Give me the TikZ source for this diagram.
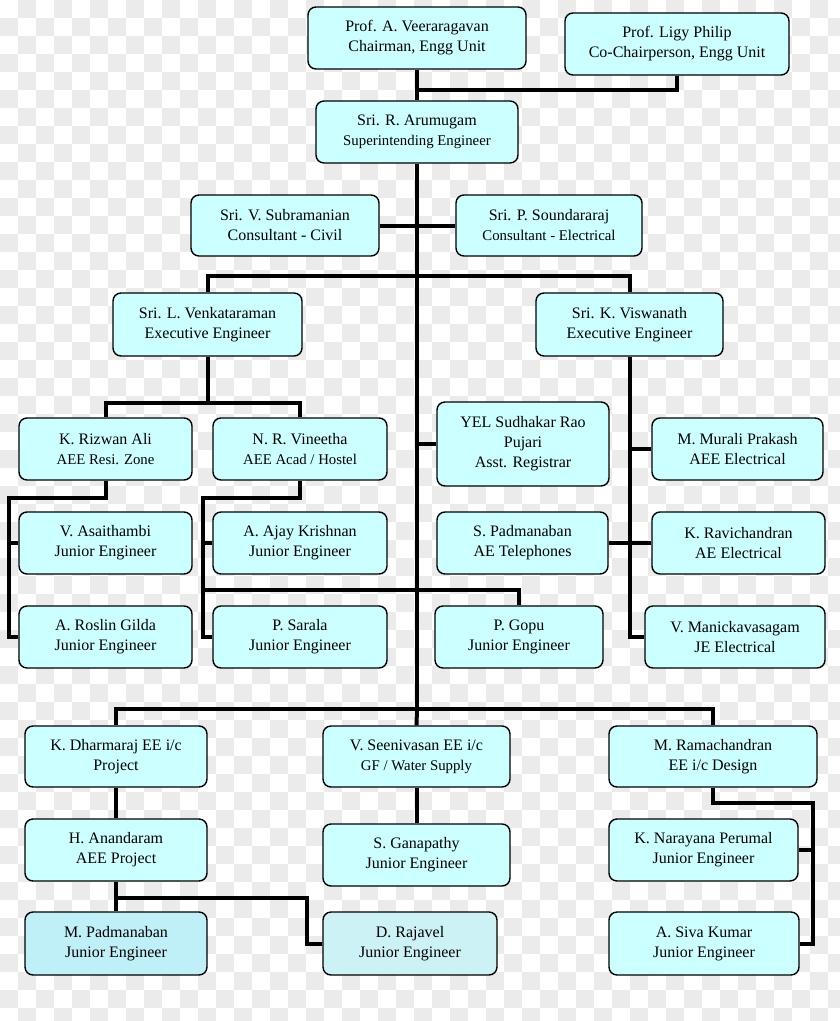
\documentclass[tikz,border=0pt]{standalone}
\usepackage{fontspec}
\setmainfont{Liberation Serif}
\definecolor{boxc}{HTML}{CCFFFF}
\definecolor{boxd}{HTML}{BFEFF7}
\definecolor{boxe}{HTML}{CCF2F5}
\definecolor{bgc}{HTML}{EBEBEB}
\newcommand{\sm}[1]{{\fontsize{14.8}{20}\selectfont #1}}
\tikzset{
  pbox/.style={draw=black, line width=1.4pt, rounded corners=8pt, fill=boxc,
    align=center, inner sep=0pt, font=\fontsize{16}{20}\selectfont},
  link/.style={draw=black, line width=4pt, line join=miter},
}
\newcommand{\bx}[6]{%
  \node[pbox, minimum width={#4-#2}, minimum height={#5-#3}, #6] (#1) at ({(#2+#4)/2},{(#3+#5)/2})}
\begin{document}
\begin{tikzpicture}[x=1pt,y=-1pt]
\useasboundingbox (0,0) rectangle (840,1021);
\fill[white] (0,0) rectangle (840,1021);
\begin{scope}
\clip (0,0) rectangle (840,1021);
\foreach \j in {0,...,56}{
  \foreach \i in {0,...,23}{
    \fill[bgc] ({(2*\i+1-mod(\j,2))*18},{\j*18}) rectangle ++(18,18);
  }
}
\end{scope}

% boxes
\bx{v}{308}{7}{526}{69}{}{Prof. A. Veeraragavan\\Chairman, Engg Unit};
\bx{phil}{565}{13}{789}{75}{}{Prof. Ligy Philip\\Co-Chairperson, Engg Unit};
\bx{aru}{316}{101}{518}{163}{}{Sri. R. Arumugam\\\sm{Superintending Engineer}};
\bx{sub}{191}{195}{379}{256}{}{Sri. V. Subramanian\\Consultant - Civil};
\bx{sound}{456}{195}{642}{256}{}{Sri. P. Soundararaj\\\sm{Consultant - Electrical}};
\bx{ven}{113}{293}{302}{356}{}{Sri. L. Venkataraman\\Executive Engineer};
\bx{vis}{536}{293}{723}{356}{}{Sri. K. Viswanath\\Executive Engineer};
\bx{riz}{19}{418}{192}{480}{}{K. Rizwan Ali\\\sm{AEE Resi. Zone}};
\bx{vin}{213}{418}{387}{480}{}{N. R. Vineetha\\\sm{AEE Acad / Hostel}};
\bx{asa}{19}{512}{192}{574}{}{V. Asaithambi\\Junior Engineer};
\bx{ajay}{213}{512}{387}{574}{}{A. Ajay Krishnan\\Junior Engineer};
\bx{ros}{19}{606}{192}{668}{}{A. Roslin Gilda\\Junior Engineer};
\bx{sar}{213}{606}{387}{668}{}{P. Sarala\\Junior Engineer};
\bx{yel}{437}{402}{609}{486}{}{YEL Sudhakar Rao\\Pujari\\Asst. Registrar};
\bx{mur}{652}{418}{823}{480}{}{M. Murali Prakash\\AEE Electrical};
\bx{pad}{437}{512}{608}{574}{}{S. Padmanaban\\AE Telephones};
\bx{rav}{652}{512}{825}{574}{}{K. Ravichandran\\AE Electrical};
\bx{gopu}{435}{606}{603}{668}{}{P. Gopu\\Junior Engineer};
\bx{man}{645}{606}{825}{668}{}{V. Manickavasagam\\JE Electrical};
\bx{dha}{25}{726}{207}{787}{}{K. Dharmaraj EE i/c\\Project};
\bx{see}{323}{726}{510}{787}{}{V. Seenivasan EE i/c\\\sm{GF / Water Supply}};
\bx{ram}{609}{726}{817}{787}{}{M. Ramachandran\\EE i/c Design};
\bx{ana}{25}{819}{207}{881}{}{H. Anandaram\\AEE Project};
\bx{gan}{323}{824}{510}{886}{}{S. Ganapathy\\Junior Engineer};
\bx{nar}{609}{819}{798}{881}{}{K. Narayana Perumal\\Junior Engineer};
\bx{mpad}{25}{912}{207}{975}{fill=boxd}{M. Padmanaban\\Junior Engineer};
\bx{raj}{323}{912}{497}{975}{fill=boxe}{D. Rajavel\\Junior Engineer};
\bx{siva}{609}{912}{799}{975}{}{A. Siva Kumar\\Junior Engineer};

% junction coordinates
\coordinate (j1) at (417,90);
\coordinate (tb) at (417,709);
\coordinate (h1) at (207.5,403);
\coordinate (l1) at (9,498);
\coordinate (l2) at (203,498);
\coordinate (g1) at (203,590);
\coordinate (a1) at (116,898);
\coordinate (rj1) at (307,898);
\coordinate (r1) at (813,803);
\coordinate (tr) at (417,226);

% connectors
\begin{scope}[on background layer/.style={}]
\draw[link] (v.south) -- (aru.north);
\draw[link] (phil.south) |- (j1);
\draw[link] (aru.south) -- (tb);
\draw[link] (sub.east) -- (sound.west);
\draw[link] (ven.north) -- ++(0,-16) -| (vis.north);
\draw[link] (ven.south) -- (h1);
\draw[link] (riz.north) |- (h1) -| (vin.north);
\draw[link] (riz.south) |- (l1) |- (ros.west);
\draw[link] (l1 |- asa.west) -- (asa.west);
\draw[link] (vin.south) |- (l2) |- (sar.west);
\draw[link] (l2 |- ajay.west) -- (ajay.west);
\draw[link] (g1) -| (gopu.north);
\draw[link] (tb |- yel.west) -- (yel.west);
\draw[link] (vis.south) |- (man.west);
\draw[link] (vis.south |- mur.west) -- (mur.west);
\draw[link] (pad.east) -- (rav.west);
\draw[link] (dha.north) |- (tb) -| (ram.north);
\draw[link] (tb) -- (see.north);
\draw[link] (dha.south) -- (ana.north);
\draw[link] (ana.south) -- (mpad.north);
\draw[link] (a1) -- (rj1) |- (raj.west);
\draw[link] (see.south) -- (gan.north);
\draw[link] (ram.south) |- (r1) |- (siva.east);
\draw[link] (r1 |- nar.east) -- (nar.east);
\end{scope}
\end{tikzpicture}
\end{document}
